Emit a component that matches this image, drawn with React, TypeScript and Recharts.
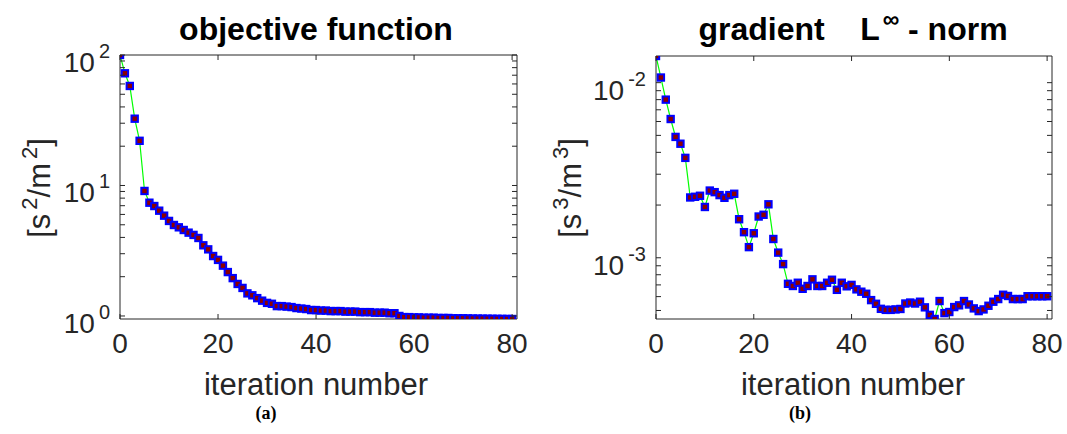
import { Line, LineChart, ReferenceLine, XAxis, YAxis } from "recharts"

// objective function per iteration [s^2/m^2]
const objective = [
  100, 72.4, 57.9, 32.5, 22.0, 9.08, 7.38, 6.96, 6.41, 5.87,
  5.35, 4.98, 4.78, 4.56, 4.35, 4.18, 3.96, 3.48, 3.24, 2.88,
  2.69, 2.43, 2.17, 1.95, 1.76, 1.64, 1.49, 1.44, 1.37, 1.31,
  1.26, 1.24, 1.19, 1.19, 1.18, 1.17, 1.15, 1.14, 1.13, 1.11,
  1.11, 1.10, 1.10, 1.09, 1.09, 1.09, 1.08, 1.08, 1.08, 1.07,
  1.07, 1.07, 1.06, 1.06, 1.06, 1.05, 1.05, 1.0, 0.98, 0.98,
  0.975, 0.975, 0.97, 0.97, 0.97, 0.965, 0.965, 0.965, 0.96, 0.96,
  0.96, 0.958, 0.956, 0.955, 0.954, 0.953, 0.952, 0.951, 0.95, 0.949,
  0.948,
]

// gradient L-infinity norm per iteration [s^3/m^3]
const gradient = [
  0.0142, 0.0107, 0.008, 0.0062, 0.0049, 0.00448, 0.00372, 0.00221, 0.00223, 0.00226,
  0.00195, 0.00242, 0.00237, 0.00228, 0.0022, 0.00228, 0.00232, 0.00166, 0.0014, 0.00115,
  0.00138, 0.00172, 0.00176, 0.00202, 0.00128, 0.00107, 0.00092, 0.00071, 0.00069, 0.00072,
  0.000665, 0.00069, 0.000753, 0.00069, 0.00069, 0.00072, 0.000749, 0.000656, 0.00072, 0.000687,
  0.0007, 0.00066, 0.00064, 0.000623, 0.000573, 0.000546, 0.000511, 0.000504, 0.000504, 0.000507,
  0.00051, 0.000548, 0.000555, 0.000548, 0.000561, 0.000521, 0.000472, 0.000447, 0.000566, 0.000483,
  0.00049, 0.000523, 0.000535, 0.000566, 0.000541, 0.000514, 0.000496, 0.000507, 0.000532, 0.000561,
  0.000581, 0.000615, 0.000605, 0.000581, 0.000581, 0.000581, 0.000603, 0.000603, 0.000603, 0.000603,
  0.000603,
]

const xTicks = [0, 20, 40, 60, 80]
const xDomain = [0, 81]

const leftMajor = [1, 10, 100]
const leftExps = ["0", "1", "2"]
const leftMinor = [2, 3, 4, 5, 6, 7, 8, 9, 20, 30, 40, 50, 60, 70, 80, 90]
const leftDomain = [0.948, 100]

const rightMajor = [0.001, 0.01]
const rightExps = ["-3", "-2"]
const rightMinor = [0.0005, 0.0006, 0.0007, 0.0008, 0.0009, 0.002, 0.003, 0.004, 0.005, 0.006, 0.007, 0.008, 0.009]
const rightDomain = [0.000447, 0.0142]

const AXIS = "#262626"
const FONT = "'Liberation Sans', Arial, Helvetica, sans-serif"

const Marker = (p: any) => {
  if (p.cx == null || p.cy == null) return <g key={p.index} />
  return (
    <rect key={p.index} x={p.cx - 3.2} y={p.cy - 3.2} width={6.4} height={6.4}
      fill="#8b0000" stroke="#0000ff" strokeWidth={2} />
  )
}

const makeYTick = (left: number, right: number, majors: number[], exps: string[]) => (props: any) => {
  const { y, payload } = props
  const i = majors.indexOf(payload.value)
  return (
    <g>
      <line x1={left} x2={left + 5} y1={y} y2={y} stroke={AXIS} />
      <line x1={right} x2={right - 5} y1={y} y2={y} stroke={AXIS} />
      {i >= 0 && (
        <text x={left - 10} y={y + 17} textAnchor="end" fontSize={28} fontFamily={FONT} fill={AXIS}>
          10<tspan dx={4} dy={-14} fontSize={20}>{exps[i]}</tspan>
        </text>
      )}
    </g>
  )
}

const makeXTick = (top: number, bottom: number) => (props: any) => {
  const { x, payload } = props
  return (
    <g>
      <line x1={x} x2={x} y1={bottom} y2={bottom - 5} stroke={AXIS} />
      <line x1={x} x2={x} y1={top} y2={top + 5} stroke={AXIS} />
      <text x={x} y={bottom + 34} textAnchor="middle" fontSize={28} fontFamily={FONT} fill={AXIS}>
        {payload.value}
      </text>
    </g>
  )
}

const Panel = ({ values, domain, majors, exps, minors, width, yWidth, top, right }: {
  values: number[], domain: number[], majors: number[], exps: string[], minors: number[],
  width: number, yWidth: number, top: number, right: number
}) => {
  const height = 434
  const xHeight = 115
  const bottom = height - xHeight
  const plotRight = width - right
  const data = values.map((v, i) => ({ it: i, v }))
  const ticks = [...majors, ...minors].filter(t => t >= domain[0] && t <= domain[1])
  return (
    <LineChart width={width} height={height} data={data} margin={{ top, right, left: 0, bottom: 0 }}>
      <XAxis type="number" dataKey="it" domain={xDomain} ticks={xTicks} interval={0}
        height={xHeight} tickLine={false} axisLine={{ stroke: AXIS }}
        tick={makeXTick(top, bottom)} allowDataOverflow />
      <YAxis type="number" scale="log" domain={domain} ticks={ticks} interval={0}
        width={yWidth} tickLine={false} axisLine={{ stroke: AXIS }}
        tick={makeYTick(yWidth, plotRight, majors, exps)} allowDataOverflow />
      <ReferenceLine y={domain[1]} stroke={AXIS} />
      <ReferenceLine x={xDomain[1]} stroke={AXIS} />
      <Line type="linear" dataKey="v" stroke="#00ff00" strokeWidth={1.2}
        dot={Marker} activeDot={false} isAnimationActive={false} />
    </LineChart>
  )
}

export default function App() {
  return (
    <div style={{ position: "absolute", left: 0, top: 0, width: 1067, height: 434, background: "#fff" }}>
      <div style={{ position: "absolute", left: 0, top: 0 }}>
        <Panel values={objective} domain={leftDomain} majors={leftMajor} exps={leftExps} minors={leftMinor}
          width={533} yWidth={120} top={55} right={16} />
      </div>
      <div style={{ position: "absolute", left: 533, top: 0 }}>
        <Panel values={gradient} domain={rightDomain} majors={rightMajor} exps={rightExps} minors={rightMinor}
          width={534} yWidth={123} top={56} right={15} />
      </div>
      <svg width={1067} height={434} style={{ position: "absolute", left: 0, top: 0, pointerEvents: "none" }}>
        <text x={316} y={40} textAnchor="middle" fontSize={32} fontWeight="bold" fontFamily={FONT} fill="#000">
          objective function
        </text>
        <text x={853} y={40} textAnchor="middle" fontSize={32} fontWeight="bold" fontFamily={FONT} fill="#000"
          style={{ whiteSpace: "pre" }}>
          {"gradient    L"}<tspan dx={3} dy={-13} fontSize={23}>∞</tspan><tspan dy={13}>{" - norm"}</tspan>
        </text>
        <text transform="translate(50,188) rotate(-90)" textAnchor="middle" fontSize={31} fontFamily={FONT} fill={AXIS}>
          [s<tspan dx={4} dy={-13} fontSize={22}>2</tspan><tspan dy={13}>/m</tspan>
          <tspan dx={4} dy={-13} fontSize={22}>2</tspan><tspan dy={13}>]</tspan>
        </text>
        <text transform="translate(581,188) rotate(-90)" textAnchor="middle" fontSize={31} fontFamily={FONT} fill={AXIS}>
          [s<tspan dx={4} dy={-13} fontSize={22}>3</tspan><tspan dy={13}>/m</tspan>
          <tspan dx={4} dy={-13} fontSize={22}>3</tspan><tspan dy={13}>]</tspan>
        </text>
        <text x={316} y={395} textAnchor="middle" fontSize={31} fontFamily={FONT} fill={AXIS}>iteration number</text>
        <text x={853} y={395} textAnchor="middle" fontSize={31} fontFamily={FONT} fill={AXIS}>iteration number</text>
        <text x={266} y={419} textAnchor="middle" fontSize={18} fontWeight="bold" fontFamily="'Liberation Serif', 'Times New Roman', serif" fill="#000">(a)</text>
        <text x={800} y={419} textAnchor="middle" fontSize={18} fontWeight="bold" fontFamily="'Liberation Serif', 'Times New Roman', serif" fill="#000">(b)</text>
      </svg>
    </div>
  )
}
